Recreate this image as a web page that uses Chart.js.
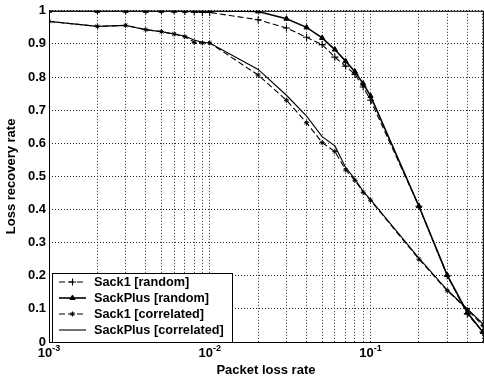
<!DOCTYPE html>
<html>
<head>
<meta charset="utf-8">
<script src="https://cdn.jsdelivr.net/npm/chart.js@4.4.1/dist/chart.umd.min.js"></script>
<style>
  html, body { margin: 0; padding: 0; background: #fff; overflow: hidden; }
  #wrap { width: 488px; height: 379px; }
</style>
</head>
<body>
<div id="wrap"><canvas id="chart" width="488" height="379"></canvas></div>
<script>
// packet loss rates where the simulations were run
const lossRates = [
  0.001, 0.002, 0.003, 0.004, 0.005, 0.006, 0.007, 0.008, 0.009, 0.01,
  0.02, 0.03, 0.04, 0.05, 0.06, 0.07, 0.08, 0.09, 0.1,
  0.2, 0.3, 0.4, 0.5
];

const sack1Random = [
  1, 1, 1, 1, 1, 1, 0.998, 0.996, 0.995, 0.995,
  0.973, 0.948, 0.92, 0.898, 0.86, 0.833, 0.808, 0.77, 0.73,
  0.41, 0.2, 0.085, 0.03
];
const sackPlusRandom = [
  1, 1, 1, 1, 1, 1, 1, 1, 1, 1,
  0.998, 0.976, 0.95, 0.918, 0.883, 0.848, 0.816, 0.78, 0.743,
  0.41, 0.202, 0.089, 0.03
];
const sack1Correlated = [
  0.968, 0.953, 0.956, 0.943, 0.937, 0.93, 0.922, 0.905, 0.903, 0.903,
  0.806, 0.73, 0.662, 0.602, 0.575, 0.52, 0.488, 0.452, 0.428,
  0.25, 0.155, 0.098, 0.05
];
const sackPlusCorrelated = [
  0.968, 0.953, 0.956, 0.943, 0.937, 0.93, 0.923, 0.912, 0.905, 0.903,
  0.823, 0.745, 0.682, 0.62, 0.592, 0.527, 0.492, 0.455, 0.43,
  0.253, 0.157, 0.1, 0.055
];

const seriesNames = ["Sack1 [random]", "SackPlus [random]", "Sack1 [correlated]", "SackPlus [correlated]"];

const xGridValues = [
  0.001, 0.002, 0.003, 0.004, 0.005, 0.006, 0.007, 0.008, 0.009,
  0.01, 0.02, 0.03, 0.04, 0.05, 0.06, 0.07, 0.08, 0.09,
  0.1, 0.2, 0.3, 0.4, 0.5
];
const xLabelValues = [0.001, 0.01, 0.1];
const xLabelExponents = ["-3", "-2", "-1"];

const FONT = '"Liberation Sans", Arial, Helvetica, sans-serif';

function toPoints(values) {
  return lossRates.map((x, i) => ({ x, y: values[i] }));
}

const datasets = [
  {
    label: seriesNames[0],
    data: toPoints(sack1Random),
    borderColor: "#000",
    backgroundColor: "#000",
    borderWidth: 1.1,
    borderDash: [6, 3],
    pointStyle: "cross",
    pointRadius: 3.5,
    pointBorderWidth: 1.1
  },
  {
    label: seriesNames[1],
    data: toPoints(sackPlusRandom),
    borderColor: "#000",
    backgroundColor: "#000",
    borderWidth: 1.6,
    borderDash: [],
    pointStyle: "triangle",
    pointRadius: 3,
    pointBorderWidth: 1
  },
  {
    label: seriesNames[2],
    data: toPoints(sack1Correlated),
    borderColor: "#000",
    backgroundColor: "#000",
    borderWidth: 1.1,
    borderDash: [6, 3],
    pointStyle: "star",
    pointRadius: 2.5,
    pointBorderWidth: 1
  },
  {
    label: seriesNames[3],
    data: toPoints(sackPlusCorrelated),
    borderColor: "#000",
    backgroundColor: "#000",
    borderWidth: 1.1,
    borderDash: [],
    pointRadius: 0
  }
];

// frame, x tick labels with exponent, and the boxed legend in the lower left
const decorPlugin = {
  id: "decor",
  afterDraw(chart) {
    const ctx = chart.ctx;
    const area = chart.chartArea;
    const xScale = chart.scales.x;

    ctx.save();
    ctx.strokeStyle = "#000";
    ctx.lineWidth = 1;
    ctx.setLineDash([]);
    ctx.strokeRect(area.left + 0.5, area.top + 0.5, area.right - area.left, area.bottom - area.top);

    // x tick labels: 10 with a raised exponent
    ctx.fillStyle = "#000";
    ctx.textBaseline = "alphabetic";
    ctx.textAlign = "left";
    xLabelValues.forEach((v, i) => {
      const px = xScale.getPixelForValue(v);
      ctx.font = "bold 13px " + FONT;
      const wBase = ctx.measureText("10").width;
      ctx.font = "bold 9px " + FONT;
      const wExp = ctx.measureText(xLabelExponents[i]).width;
      const start = px - (wBase + wExp) / 2;
      ctx.font = "bold 13px " + FONT;
      ctx.fillText("10", start, 357);
      ctx.font = "bold 9px " + FONT;
      ctx.fillText(xLabelExponents[i], start + wBase, 351);
    });

    // legend box
    const box = { left: 52, top: 273, right: 232, bottom: 342 };
    ctx.fillStyle = "#fff";
    ctx.fillRect(box.left, box.top, box.right - box.left, box.bottom - box.top);
    ctx.lineWidth = 1;
    ctx.strokeRect(box.left + 0.5, box.top + 0.5, box.right - box.left, box.bottom - box.top);

    const rowY = [282, 298, 314, 330];
    chart.data.datasets.forEach((ds, i) => {
      const y = rowY[i];
      ctx.strokeStyle = "#000";
      ctx.lineWidth = ds.borderWidth;
      ctx.setLineDash(ds.borderDash || []);
      ctx.beginPath();
      ctx.moveTo(59, y);
      ctx.lineTo(86, y);
      ctx.stroke();
      ctx.setLineDash([]);
      if (ds.pointRadius > 0) {
        ctx.fillStyle = "#000";
        ctx.lineWidth = ds.pointBorderWidth;
        Chart.helpers.drawPoint(ctx, {
          pointStyle: ds.pointStyle,
          radius: ds.pointRadius,
          rotation: 0,
          borderWidth: ds.pointBorderWidth
        }, 72.5, y);
      }
      ctx.fillStyle = "#000";
      ctx.font = "bold 12.7px " + FONT;
      ctx.textBaseline = "middle";
      ctx.fillText(ds.label, 94, y + 0.5);
    });
    ctx.restore();
  }
};

new Chart(document.getElementById("chart"), {
  type: "line",
  data: { datasets },
  options: {
    responsive: false,
    animation: false,
    devicePixelRatio: 1,
    layout: { padding: { top: 9, right: 2, left: 0, bottom: 0 } },
    elements: { line: { tension: 0 } },
    scales: {
      x: {
        type: "logarithmic",
        min: 0.001,
        max: 0.5,
        afterBuildTicks: (scale) => {
          scale.ticks = xGridValues.map((v) => ({ value: v }));
        },
        afterFit: (scale) => {
          scale.height = 37;
        },
        ticks: { display: false, autoSkip: false },
        grid: { color: "#222", lineWidth: 1, drawTicks: false },
        border: { display: false, dash: [1, 2] },
        title: {
          display: true,
          text: "Packet loss rate",
          color: "#000",
          font: { family: FONT, size: 13, weight: "bold" },
          padding: { top: 1, bottom: 1 }
        }
      },
      y: {
        min: 0,
        max: 1,
        afterFit: (scale) => {
          scale.width = 49;
        },
        ticks: {
          stepSize: 0.1,
          color: "#000",
          padding: 3,
          font: { family: FONT, size: 13, weight: "bold" },
          callback: (value) => {
            const v = Math.round(value * 10) / 10;
            if (v === 0) return "0";
            if (v === 1) return "1";
            return v.toFixed(1);
          }
        },
        grid: { color: "#222", lineWidth: 1, drawTicks: false },
        border: { display: false, dash: [1, 2] },
        title: {
          display: true,
          text: "Loss recovery rate",
          color: "#000",
          font: { family: FONT, size: 13, weight: "bold" },
          padding: { top: 4, bottom: 0 }
        }
      }
    },
    plugins: {
      legend: { display: false },
      tooltip: { enabled: false }
    }
  },
  plugins: [decorPlugin]
});
</script>
</body>
</html>
